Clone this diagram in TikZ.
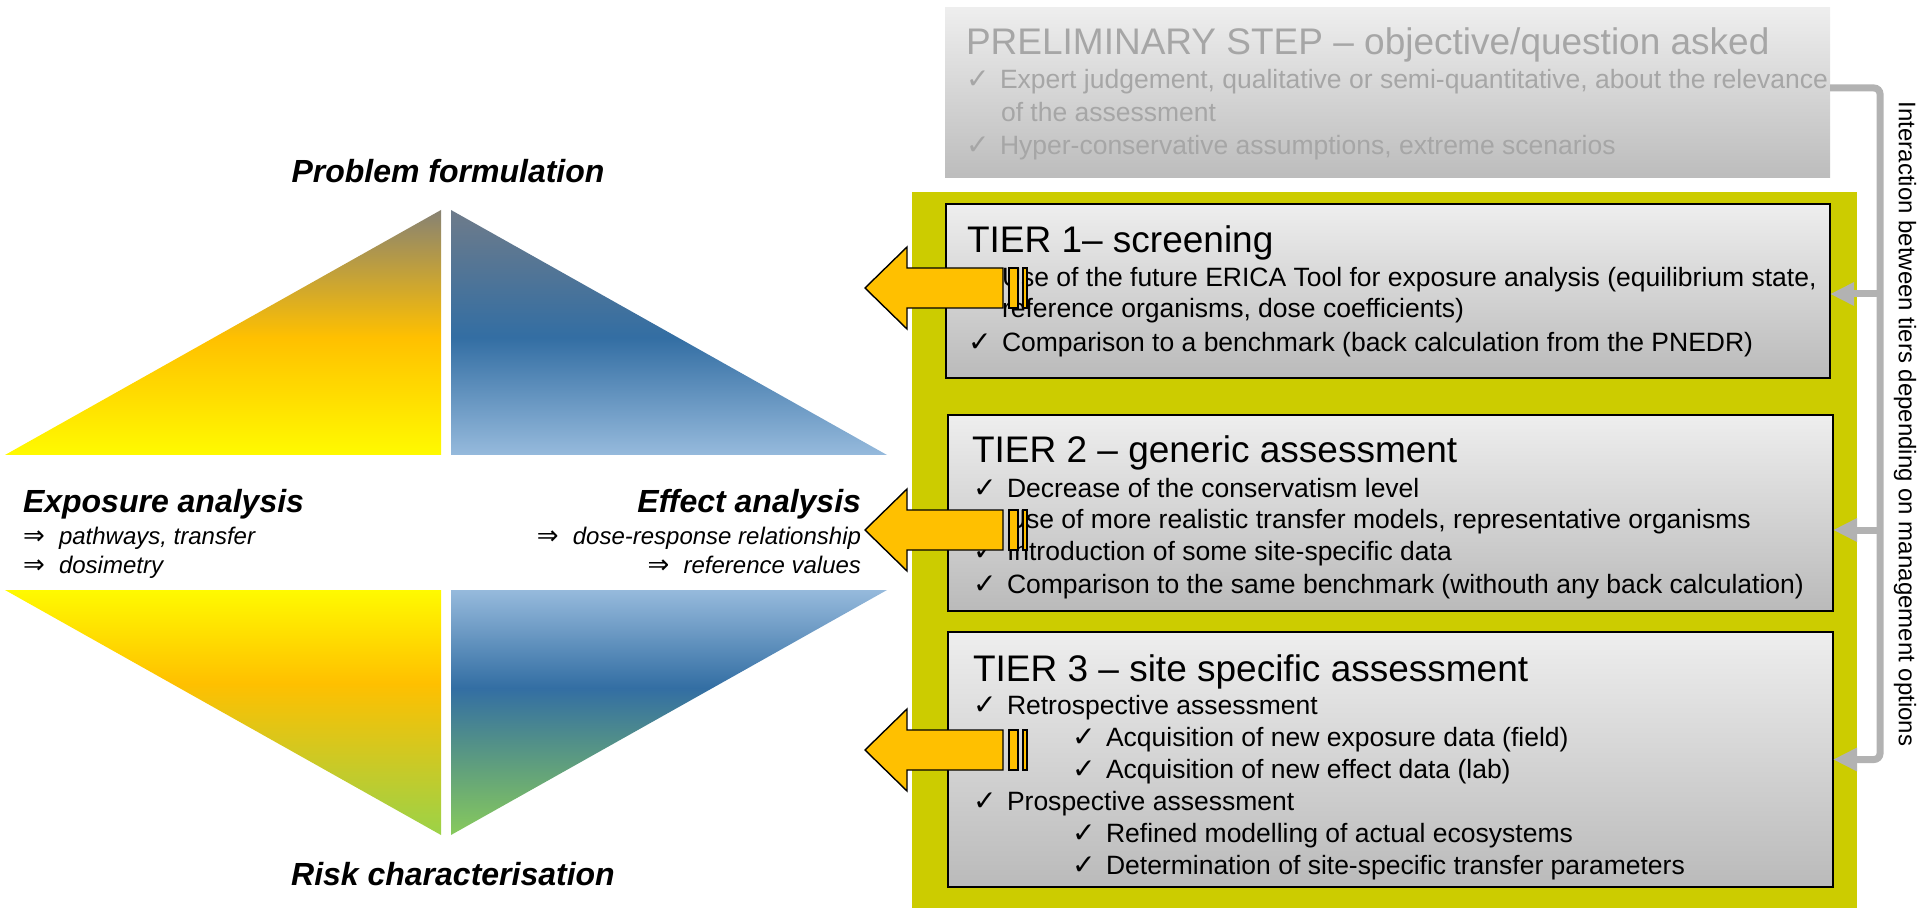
\documentclass[tikz,border=0pt]{standalone}
\usepackage{fontspec}
\setmainfont{Liberation Sans}
\newfontfamily\djv{DejaVu Sans}
\usetikzlibrary{arrows.meta,calc}

\definecolor{ybox}{RGB}{204,204,0}
\definecolor{pretop}{RGB}{238,238,238}
\definecolor{prebot}{RGB}{188,188,188}
\definecolor{pretxt}{RGB}{166,166,166}
\definecolor{boxtop}{RGB}{238,238,238}
\definecolor{boxbot}{RGB}{186,186,186}
\definecolor{conng}{RGB}{178,178,178}
\definecolor{arrY}{RGB}{255,192,0}
\definecolor{cYel}{RGB}{255,250,0}
\definecolor{cOrg}{RGB}{255,192,0}
\definecolor{cGryY}{RGB}{135,130,115}
\definecolor{cLBlu}{RGB}{150,186,220}
\definecolor{cBlu}{RGB}{51,110,163}
\definecolor{cGryB}{RGB}{110,123,138}
\definecolor{cGrn}{RGB}{155,210,72}
\definecolor{cGrnB}{RGB}{135,202,92}

\pgfdeclareverticalshading{shYU}{100bp}{color(0bp)=(cYel); color(25bp)=(cYel); color(49bp)=(cOrg); color(75bp)=(cGryY); color(100bp)=(cGryY)}
\pgfdeclareverticalshading{shBU}{100bp}{color(0bp)=(cLBlu); color(25bp)=(cLBlu); color(49bp)=(cBlu); color(75bp)=(cGryB); color(100bp)=(cGryB)}
\pgfdeclareverticalshading{shYL}{100bp}{color(0bp)=(cGrn); color(25bp)=(cGrn); color(56bp)=(cOrg); color(75bp)=(cYel); color(100bp)=(cYel)}
\pgfdeclareverticalshading{shBL}{100bp}{color(0bp)=(cGrnB); color(25bp)=(cGrnB); color(55bp)=(cBlu); color(75bp)=(cLBlu); color(100bp)=(cLBlu)}

\newcommand\ckm{{\djv\upshape\fontsize{14pt}{14pt}\selectfont ✓}}
\newcommand\ckl{\makebox[17pt][l]{\ckm}}
\newcommand\dra{\makebox[18pt][l]{{\djv\upshape\fontsize{13pt}{13pt}\selectfont ⇒}}}

\tikzset{
  txt/.style={inner sep=0pt, outer sep=0pt, anchor=base west},
  ttl/.style={txt, font=\fontsize{18.5pt}{22pt}\selectfont},
  bdy/.style={txt, font=\fontsize{13.25pt}{16pt}\selectfont},
  pretext/.style={text=pretxt},
  hdl/.style={inner sep=0pt, outer sep=0pt, font=\fontsize{16pt}{19pt}\selectfont\bfseries\itshape},
  sublbl/.style={inner sep=0pt, outer sep=0pt, font=\fontsize{12pt}{14pt}\selectfont\itshape},
  tierbox/.style={draw=black, line width=1pt, top color=boxtop, bottom color=boxbot,
    anchor=north west, inner sep=0pt, outer sep=0pt},
  conn/.style={draw=conng, line width=3.5pt},
  conntip/.style={-{Triangle[length=12pt,width=11pt]}},
  blk/.style={fill=arrY, draw=black, line width=0.7pt, line join=miter},
  blkarr/.pic={
    \path[blk] (0,0) -- (42,-41) -- (42,-20) -- (138,-20) -- (138,20) -- (42,20) -- (42,41) -- cycle;
    \path[blk] (144,-20) rectangle (153,20);
    \path[blk] (158,-20) rectangle (162,20);
  }
}

\begin{document}
\begin{tikzpicture}[x=0.5pt,y=-0.5pt]
\useasboundingbox (0,0) rectangle (1920,908);

% ---------- left diagram ----------
\shade[shading=shYU] (5,455) -- (441,210) -- (441,455) -- cycle;
\shade[shading=shBU] (451,210) -- (887,455) -- (451,455) -- cycle;
\shade[shading=shYL] (5,590) -- (441,590) -- (441,835) -- cycle;
\shade[shading=shBL] (451,590) -- (887,590) -- (451,835) -- cycle;

\node[hdl, anchor=base] (pf) at (448,183) {Problem formulation};
\node[hdl, anchor=base west] (ea) at (23,512) {Exposure analysis};
\node[sublbl, anchor=base west] (ea1) at (23,544) {\dra pathways, transfer};
\node[sublbl, anchor=base west] (ea2) at (23,573) {\dra dosimetry};
\node[hdl, anchor=base east] (ef) at (861,512) {Effect analysis};
\node[sublbl, anchor=base east] (ef1) at (861,544) {\dra dose-response relationship};
\node[sublbl, anchor=base east] (ef2) at (861,573) {\dra reference values};
\node[hdl, anchor=base] (rc) at (453,885) {Risk characterisation};

% ---------- preliminary step ----------
\node[anchor=north west, minimum width=442.5pt, minimum height=85pt, inner sep=0pt, outer sep=0pt,
      top color=pretop, bottom color=prebot] (pre) at (945,8) {};
\node[ttl, pretext] (preT) at (966,55) {PRELIMINARY STEP – objective/question asked};
\node[bdy, pretext] (preA) at (966,89) {\ckl Expert judgement, qualitative or semi-quantitative, about the relevance};
\node[bdy, pretext] (preB) at (1001,122) {of the assessment};
\node[bdy, pretext] (preC) at (966,155) {\ckl Hyper-conservative assumptions, extreme scenarios};

% ---------- tiers ----------
\node[fill=ybox, anchor=north west, minimum width=472.5pt, minimum height=358pt, inner sep=0pt, outer sep=0pt] (yb) at (912,192) {};

\node[tierbox, minimum width=442pt, minimum height=87pt] (t1) at (946,204) {};
\node[tierbox, minimum width=442.5pt, minimum height=98pt] (t2) at (948,415) {};
\node[tierbox, minimum width=442.5pt, minimum height=127.5pt] (t3) at (948,632) {};

\node[ttl] (t1T) at (967,253) {TIER 1– screening};
\node[bdy] (t1a) at (968,287) {\ckl Use of the future ERICA Tool for exposure analysis (equilibrium state,};
\node[bdy] (t1b) at (1002,318) {reference organisms, dose coefficients)};
\node[bdy] (t1c) at (968,352) {\ckl Comparison to a benchmark (back calculation from the PNEDR)};

\node[ttl] (t2T) at (972,463) {TIER 2 – generic assessment};
\node[bdy] (t2a) at (973,497) {\ckl Decrease of the conservatism level};
\node[bdy] (t2b) at (973,528) {\ckl Use of more realistic transfer models, representative organisms};
\node[bdy] (t2c) at (973,560) {\ckl Introduction of some site-specific data};
\node[bdy] (t2d) at (973,593) {\ckl Comparison to the same benchmark (withouth any back calculation)};

\node[ttl] (t3T) at (973,681) {TIER 3 – site specific assessment};
\node[bdy] (t3a) at (973,714) {\ckl Retrospective assessment};
\node[bdy] (t3b) at (1072,746) {\ckl Acquisition of new exposure data (field)};
\node[bdy] (t3c) at (1072,778) {\ckl Acquisition of new effect data (lab)};
\node[bdy] (t3d) at (973,810) {\ckl Prospective assessment};
\node[bdy] (t3e) at (1072,842) {\ckl Refined modelling of actual ecosystems};
\node[bdy] (t3f) at (1072,874) {\ckl Determination of site-specific transfer parameters};

% ---------- block arrows ----------
\pic at (865,288) {blkarr};
\pic at (865,530) {blkarr};
\pic at (865,750) {blkarr};

% ---------- interaction connector ----------
\coordinate (vl) at (1880,0);
\coordinate (c1) at ($(t1.east)+(0,3)$);
\coordinate (c2) at ($(t2.east)+(0,17)$);
\draw[conn, conntip, rounded corners=3pt] ($(pre.north east)+(0,80)$) -- (vl |- 0,88) |- (t3.east);
\draw[conn, conntip] (vl |- c1) -- (c1);
\draw[conn, conntip] (vl |- c2) -- (c2);

\node[rotate=-90, inner sep=0pt, font=\fontsize{12pt}{14pt}\selectfont] (side) at (1905,424)
  {Interaction between tiers depending on management options};
\end{tikzpicture}
\end{document}
